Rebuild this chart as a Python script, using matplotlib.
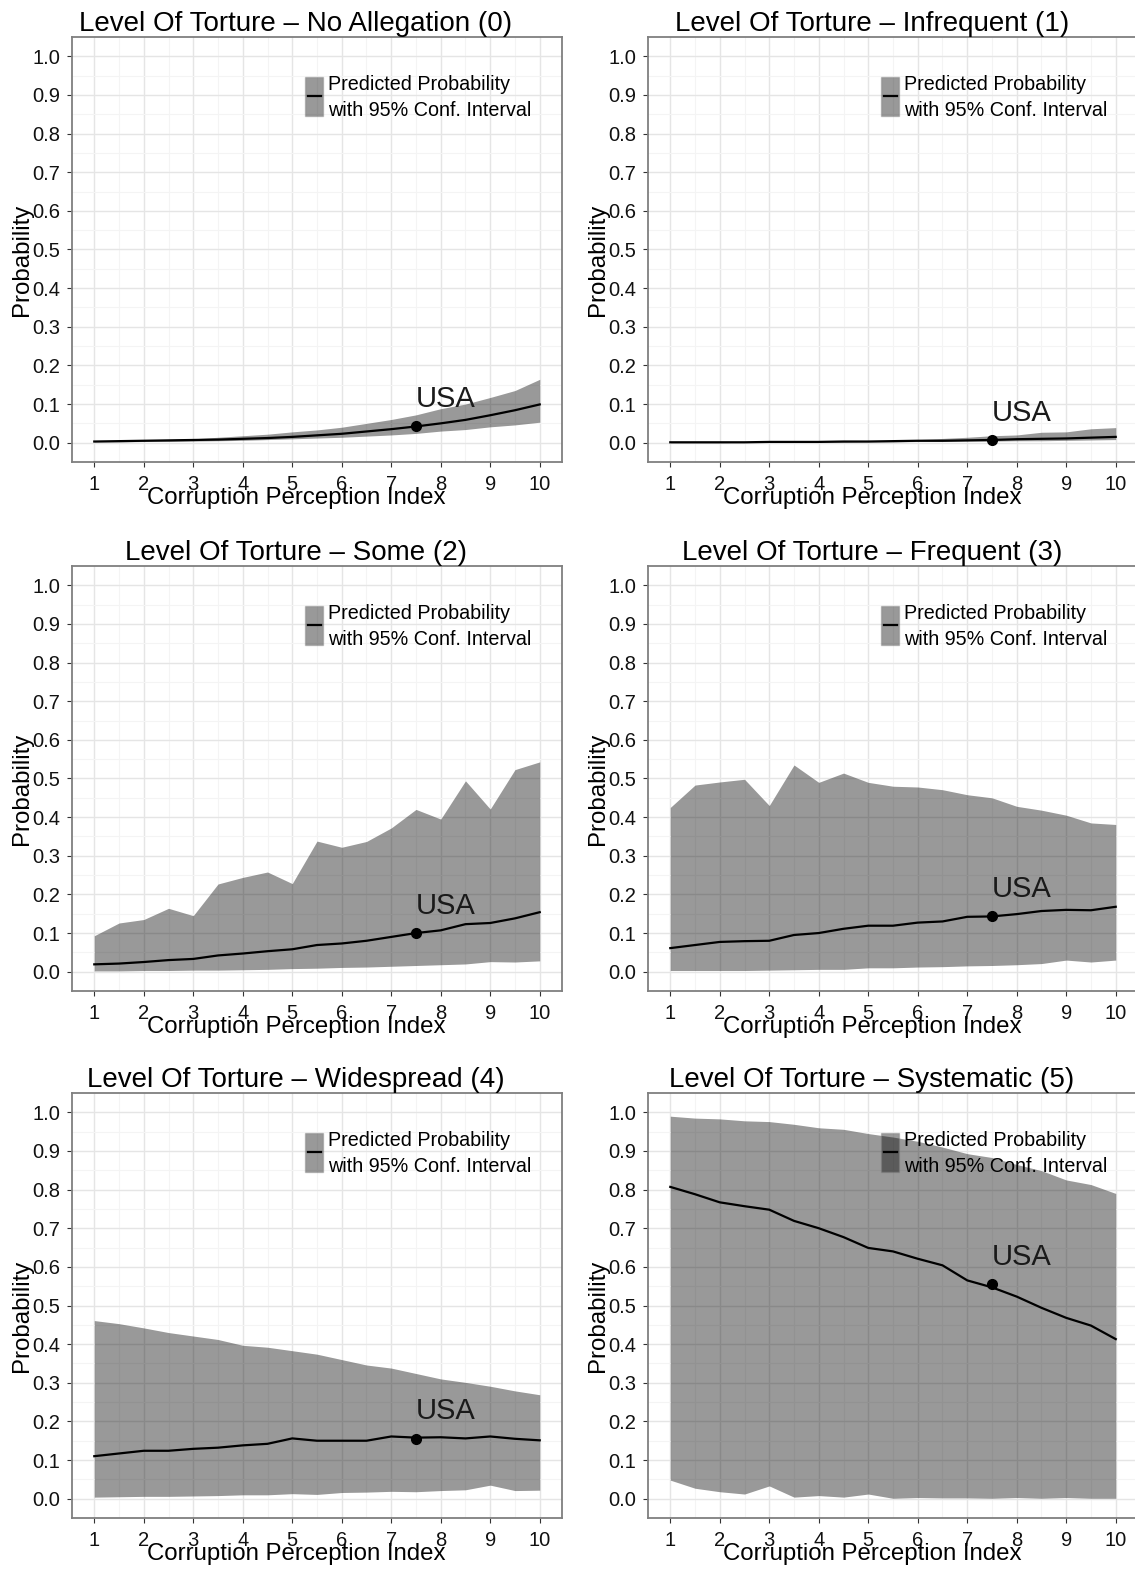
import numpy as np
import matplotlib
matplotlib.use('Agg')
import matplotlib.pyplot as plt
from matplotlib.patches import Rectangle

plt.rcParams['font.family'] = ['Liberation Sans', 'DejaVu Sans']

cpi = [1, 1.5, 2, 2.5, 3, 3.5, 4, 4.5, 5, 5.5, 6, 6.5, 7, 7.5, 8, 8.5, 9, 9.5, 10]

titles = ['Level Of Torture \u2013 No Allegation (0)',
          'Level Of Torture \u2013 Infrequent (1)',
          'Level Of Torture \u2013 Some (2)',
          'Level Of Torture \u2013 Frequent (3)',
          'Level Of Torture \u2013 Widespread (4)',
          'Level Of Torture \u2013 Systematic (5)']

# predicted probability per outcome level
mean_0 = [0.003, 0.004, 0.005, 0.006, 0.007, 0.008, 0.010, 0.012, 0.015, 0.019,
          0.023, 0.029, 0.035, 0.042, 0.050, 0.059, 0.071, 0.084, 0.099]
upper_0 = [0.004, 0.005, 0.006, 0.008, 0.010, 0.014, 0.018, 0.022, 0.028, 0.033,
           0.040, 0.050, 0.060, 0.072, 0.088, 0.100, 0.117, 0.135, 0.164]
lower_0 = [0.002, 0.002, 0.003, 0.003, 0.004, 0.005, 0.006, 0.008, 0.010, 0.012,
           0.014, 0.017, 0.020, 0.024, 0.030, 0.034, 0.041, 0.046, 0.053]

mean_1 = [0.001, 0.001, 0.001, 0.001, 0.002, 0.002, 0.002, 0.003, 0.003, 0.004,
          0.005, 0.005, 0.006, 0.007, 0.009, 0.010, 0.011, 0.013, 0.015]
upper_1 = [0.001, 0.001, 0.002, 0.002, 0.002, 0.003, 0.003, 0.004, 0.004, 0.006,
           0.008, 0.011, 0.014, 0.018, 0.020, 0.027, 0.028, 0.036, 0.039]
lower_1 = [0.000, 0.000, 0.000, 0.001, 0.001, 0.001, 0.001, 0.001, 0.002, 0.002,
           0.003, 0.003, 0.004, 0.004, 0.005, 0.005, 0.006, 0.007, 0.008]

mean_2 = [0.019, 0.021, 0.025, 0.030, 0.033, 0.042, 0.047, 0.053, 0.058, 0.069,
          0.073, 0.080, 0.090, 0.100, 0.107, 0.123, 0.126, 0.138, 0.154]
upper_2 = [0.093, 0.126, 0.135, 0.164, 0.145, 0.227, 0.244, 0.258, 0.228, 0.338,
           0.322, 0.337, 0.372, 0.420, 0.395, 0.494, 0.421, 0.523, 0.543]
lower_2 = [0.002, 0.002, 0.003, 0.003, 0.004, 0.004, 0.005, 0.006, 0.008, 0.009,
           0.011, 0.012, 0.014, 0.016, 0.018, 0.020, 0.026, 0.025, 0.028]

mean_3 = [0.061, 0.069, 0.077, 0.079, 0.080, 0.095, 0.100, 0.111, 0.119, 0.119,
          0.127, 0.130, 0.142, 0.143, 0.149, 0.157, 0.160, 0.159, 0.168]
upper_3 = [0.425, 0.483, 0.491, 0.498, 0.430, 0.535, 0.490, 0.514, 0.490, 0.480,
           0.478, 0.471, 0.458, 0.450, 0.428, 0.418, 0.405, 0.385, 0.381]
lower_3 = [0.003, 0.003, 0.003, 0.003, 0.004, 0.005, 0.006, 0.006, 0.010, 0.010,
           0.012, 0.013, 0.015, 0.016, 0.018, 0.021, 0.030, 0.025, 0.030]

mean_4 = [0.110, 0.117, 0.124, 0.124, 0.129, 0.132, 0.138, 0.142, 0.156, 0.150,
          0.150, 0.150, 0.161, 0.158, 0.159, 0.156, 0.161, 0.155, 0.151]
upper_4 = [0.461, 0.453, 0.442, 0.430, 0.421, 0.412, 0.397, 0.392, 0.383, 0.374,
           0.360, 0.346, 0.338, 0.324, 0.310, 0.301, 0.291, 0.279, 0.269]
lower_4 = [0.004, 0.005, 0.006, 0.006, 0.007, 0.008, 0.010, 0.010, 0.013, 0.011,
           0.016, 0.017, 0.019, 0.018, 0.021, 0.023, 0.035, 0.021, 0.022]

mean_5 = [0.807, 0.788, 0.767, 0.757, 0.748, 0.719, 0.700, 0.677, 0.649, 0.640,
          0.621, 0.604, 0.565, 0.547, 0.523, 0.494, 0.468, 0.448, 0.413]
upper_5 = [0.990, 0.985, 0.983, 0.978, 0.976, 0.969, 0.960, 0.956, 0.945, 0.936,
           0.925, 0.910, 0.893, 0.883, 0.865, 0.849, 0.825, 0.813, 0.790]
lower_5 = [0.048, 0.027, 0.018, 0.012, 0.033, 0.004, 0.008, 0.004, 0.012, 0.001,
           0.003, 0.002, 0.002, 0.001, 0.003, 0.001, 0.003, 0.001, 0.001]

usa_cpi = 7.5
usa_prob = [0.042, 0.007, 0.100, 0.143, 0.155, 0.555]

means = [mean_0, mean_1, mean_2, mean_3, mean_4, mean_5]
uppers = [upper_0, upper_1, upper_2, upper_3, upper_4, upper_5]
lowers = [lower_0, lower_1, lower_2, lower_3, lower_4, lower_5]

W, H = 1135, 1570
fig = plt.figure(figsize=(W / 100, H / 100), dpi=100)

# panel boxes in pixels; the right column runs a little past the page edge
col_lr = [(72, 562), (648, 1138)]
row_tb = [(37, 462), (566, 991), (1093, 1518)]
title_cx = [296, 872]

for i in range(6):
    r, c = divmod(i, 2)
    l, rt = col_lr[c]
    t, b = row_tb[r]
    ax = fig.add_axes([l / W, 1 - b / H, (rt - l) / W, (b - t) / H])

    ax.fill_between(cpi, lowers[i], uppers[i], color='black', alpha=0.4,
                    linewidth=0, zorder=2)
    ax.plot(cpi, means[i], color='black', lw=1.6, zorder=3)
    ax.plot([usa_cpi], [usa_prob[i]], 'o', color='black', ms=7, zorder=4)
    ax.text(usa_cpi, usa_prob[i] + 0.05, 'USA', fontsize=21, ha='left',
            va='baseline', color='#1a1a1a', zorder=5)

    ax.set_xlim(0.55, 10.45)
    ax.set_ylim(-0.05, 1.05)
    ax.set_xticks(range(1, 11))
    ax.set_xticks(np.arange(1.5, 10, 1), minor=True)
    ax.set_yticks(np.round(np.arange(0, 1.01, 0.1), 1))
    ax.set_yticks(np.arange(0.05, 1.0, 0.1), minor=True)
    ax.set_yticklabels(['%.1f' % v for v in np.arange(0, 1.01, 0.1)])
    ax.grid(which='major', color='#e5e5e5', lw=1.0, zorder=0)
    ax.grid(which='minor', color='#f4f4f4', lw=0.8, zorder=0)
    ax.set_axisbelow(True)
    for s in ax.spines.values():
        s.set_color('#7f7f7f')
        s.set_linewidth(1.3)
    ax.tick_params(which='major', length=3.5, width=0.8, color='#333333',
                   labelsize=14.5, labelcolor='#111111', pad=5)
    ax.tick_params(axis='x', which='major', pad=6)
    ax.tick_params(which='minor', length=0)

    ax.set_xlabel('Corruption Perception Index', fontsize=17.3)
    ax.xaxis.set_label_coords((title_cx[c] - l) / (rt - l), -0.058)
    ax.set_ylabel('Probability', fontsize=17.3)
    ax.yaxis.set_label_coords(-0.08, 0.476)
    ax.set_title(titles[i], fontsize=20, x=(title_cx[c] - l) / (rt - l), pad=3)

    # legend key: shaded band with the mean line across it
    ax.add_patch(Rectangle((0.4755, 0.813), 0.037, 0.094, transform=ax.transAxes,
                           facecolor='black', alpha=0.4, edgecolor='#7f7f7f',
                           lw=1, zorder=6))
    ax.plot([0.482, 0.508], [0.862, 0.862], transform=ax.transAxes,
            color='black', lw=1.6, zorder=7)
    ax.text(0.522, 0.876, 'Predicted Probability', transform=ax.transAxes,
            fontsize=14.2, ha='left', va='baseline', zorder=7)
    ax.text(0.522, 0.815, 'with 95% Conf. Interval', transform=ax.transAxes,
            fontsize=14.2, ha='left', va='baseline', zorder=7)

fig.savefig('out.png', dpi=100)
